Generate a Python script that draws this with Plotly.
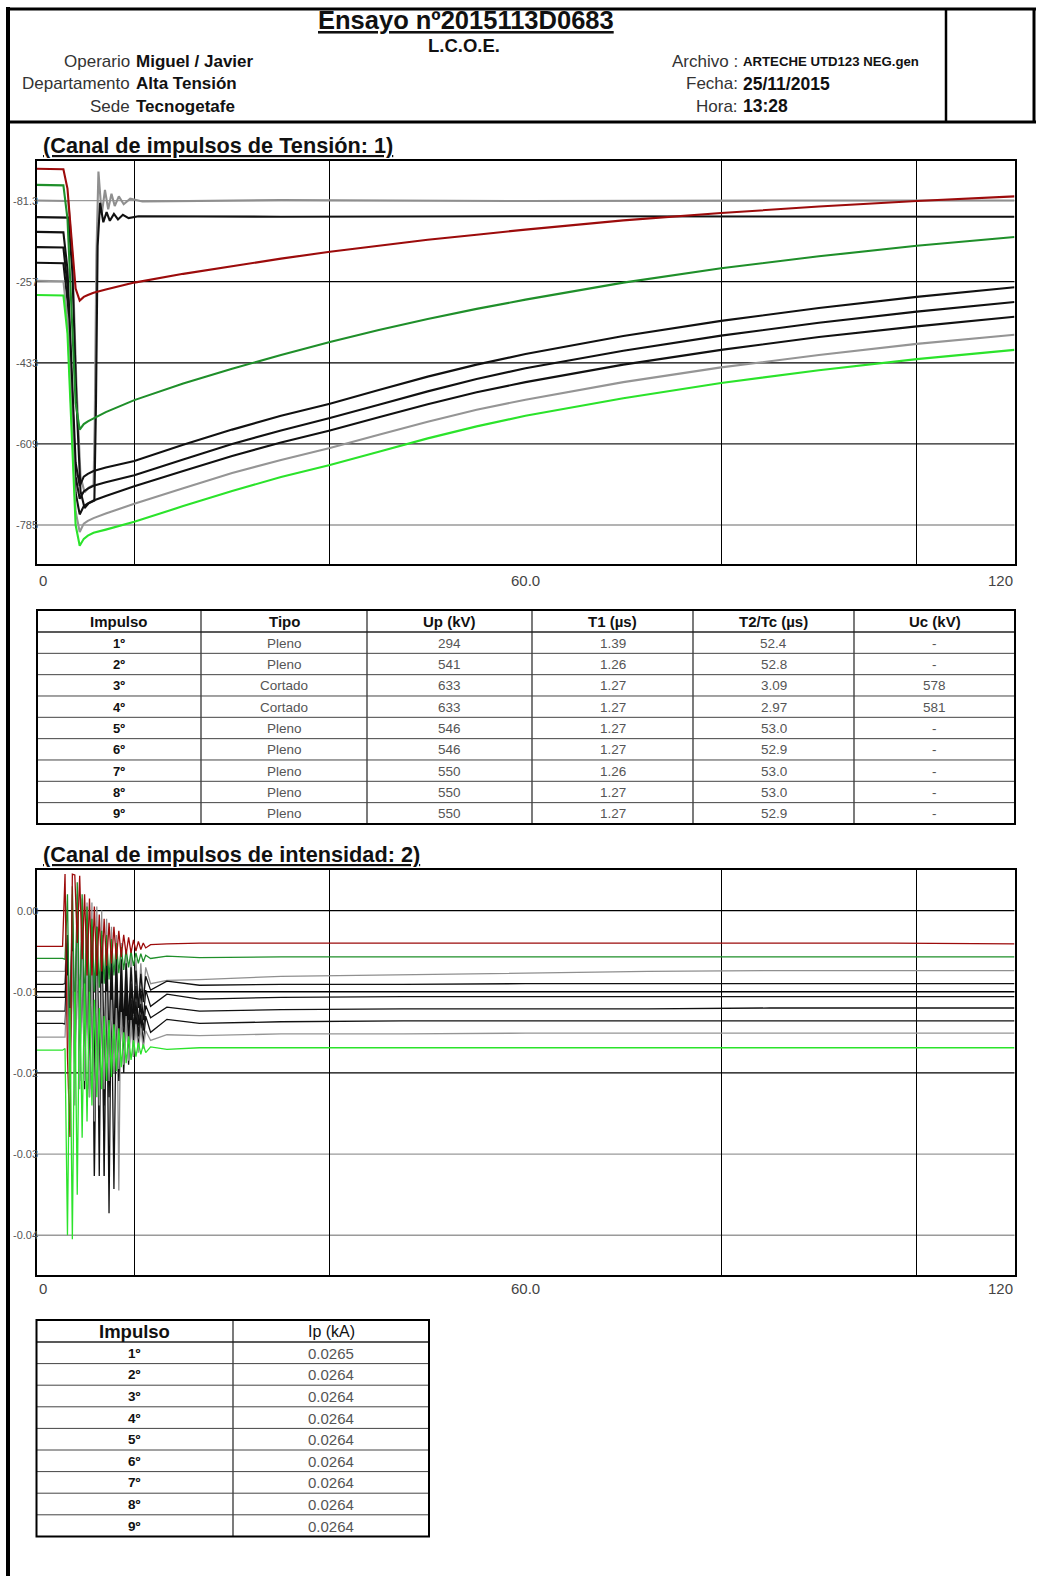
import plotly.graph_objects as go

W, H = 1037, 1576
FONT = "Liberation Sans, Arial, Helvetica, sans-serif"

# ---------------- data ----------------
TITLE = "Ensayo nº2015113D0683"
LAB = "L.C.O.E."
LEFT_LABELS = ["Operario", "Departamento", "Sede"]
LEFT_VALUES = ["Miguel / Javier", "Alta Tensión", "Tecnogetafe"]
RIGHT_LABELS = ["Archivo :", "Fecha:", "Hora:"]
RIGHT_VALUES = ["ARTECHE UTD123 NEG.gen", "25/11/2015", "13:28"]
SECTION_V = "(Canal de impulsos de Tensión: 1)"
SECTION_I = "(Canal de impulsos de intensidad: 2)"

X_TICKS = [0, 60, 120]
X_TICK_TEXT = ["0", "60.0", "120"]
X_GRID = [12, 36, 84, 108]

V_YTICKS = [-81.3, -257, -433, -609, -785]
V_YTICK_TEXT = ["-81.3", "-257", "-433", "-609", "-785"]
I_YTICKS = [0.0, -0.01, -0.02, -0.03, -0.04]
I_YTICK_TEXT = ["0.00", "-0.01", "-0.02", "-0.03", "-0.04"]

# voltage channel (kV vs µs); full impulses share one time grid
V_T = [0, 3.3, 3.8, 4.3, 4.8, 5.3, 5.8, 6.3, 7.0, 8.5, 12, 18, 24, 30, 36, 42, 48, 54, 60, 72, 84, 96, 108, 120]
U1 = [-12, -13, -55, -170, -272, -298, -290, -286, -281, -274, -259, -240, -223, -207, -192, -179, -166, -155, -144, -124, -108, -94, -82, -72]
U2 = [-47, -48, -120, -330, -520, -578, -566, -560, -554, -540, -514, -478, -446, -416, -388, -362, -338, -316, -296, -259, -228, -202, -179, -160]
U5 = [-149, -150, -230, -450, -650, -700, -680, -674, -668, -660, -646, -611, -578, -548, -522, -492, -463, -437, -414, -375, -342, -314, -290, -269]
U6 = [-182, -183, -265, -485, -680, -728, -712, -706, -700, -692, -677, -643, -609, -580, -553, -524, -495, -468, -445, -407, -374, -346, -322, -301]
U7 = [-216, -217, -300, -520, -715, -762, -744, -738, -732, -722, -701, -668, -635, -606, -580, -551, -523, -497, -475, -437, -405, -377, -354, -333]
U8 = [-255, -256, -340, -560, -755, -800, -782, -776, -770, -760, -739, -705, -672, -644, -618, -589, -561, -535, -513, -475, -443, -416, -392, -372]
U9 = [-286, -287, -370, -590, -785, -830, -815, -808, -802, -795, -778, -744, -711, -681, -655, -626, -597, -571, -548, -510, -477, -449, -425, -405]
# chopped impulses
U3_T = [0, 3.9, 4.4, 4.9, 5.4, 5.9, 6.4, 7.0, 7.15, 7.35, 7.6, 8.0, 8.4, 8.8, 9.2, 9.6, 10.1, 10.7, 11.5, 13, 30, 60, 90, 120]
U3 = [-81, -82, -200, -480, -680, -714, -704, -698, -560, -200, -18, -112, -58, -100, -66, -93, -72, -89, -77, -83, -80, -82, -81, -81]
U4_T = [0, 3.9, 4.4, 4.9, 5.4, 5.9, 6.4, 7.1, 7.3, 7.5, 7.8, 8.2, 8.6, 9.0, 9.5, 10.0, 10.6, 11.3, 12.5, 30, 60, 90, 120]
U4 = [-117, -118, -235, -515, -712, -748, -738, -732, -520, -180, -86, -128, -106, -125, -110, -122, -112, -119, -115, -116, -115, -116, -116]

# current channel (kA vs µs)
I_T = [0, 3.2,
       3.5, 3.8, 4.1, 4.4, 4.7, 5.0, 5.3, 5.6, 5.9, 6.2,
       6.5, 6.8, 7.1, 7.4, 7.7, 8.0, 8.3, 8.6, 8.9, 9.2,
       9.5, 9.8, 10.1, 10.4, 10.7, 11.0, 11.3, 11.6, 11.9, 12.2,
       12.5, 12.8, 13.1, 13.4,
       14, 16, 20, 30, 45, 60, 75, 90, 105, 120]
I1 = [-0.0044, -0.0044,
      0.0045, -0.018, -0.0279, 0.0045, 0.0044, -0.004, 0.0043, -0.006, 0.002, -0.008,
      0.0015, -0.008, 0.0005, -0.008, -0.0005, -0.0075, -0.001, -0.0068, -0.0015, -0.0065,
      -0.002, -0.006, -0.0025, -0.0057, -0.003, -0.0054, -0.0033, -0.0052, -0.0036, -0.005,
      -0.0038, -0.0048, -0.0040, -0.0046,
      -0.0042, -0.0041, -0.0040, -0.0040, -0.0040, -0.0040, -0.0040, -0.0040, -0.0040, -0.0041]
I2 = [-0.0059, -0.0059,
      -0.006, 0.002, -0.020, 0.003, -0.015, 0.0035, -0.014, 0.002, -0.012, 0.0005,
      -0.011, -0.001, -0.010, -0.002, -0.0095, -0.0025, -0.009, -0.003, -0.0085, -0.0035,
      -0.008, -0.004, -0.0077, -0.0045, -0.0073, -0.0048, -0.007, -0.005, -0.0068, -0.0052,
      -0.0065, -0.0053, -0.0063, -0.0055,
      -0.0059, -0.0056, -0.0058, -0.0057, -0.0057, -0.0057, -0.0057, -0.0057, -0.0057, -0.0057]
I3 = [-0.0075, -0.0075,
      -0.0075, -0.003, -0.014, 0.002, -0.016, 0.002, -0.017, 0.0015, -0.018, 0.001,
      -0.019, 0.001, -0.0327, 0.0005, -0.020, 0.000, -0.0327, -0.001, -0.019, -0.002,
      -0.018, -0.003, -0.0345, -0.004, -0.016, -0.005, -0.014, -0.0055, -0.013, -0.006,
      -0.0118, -0.0065, -0.011, -0.007,
      -0.0090, -0.0086, -0.0085, -0.0081, -0.0079, -0.0077, -0.0075, -0.0074, -0.0074, -0.0074]
I4 = [-0.0091, -0.0091,
      -0.009, -0.003, -0.016, 0.000, -0.017, 0.001, -0.018, 0.000, -0.019, -0.001,
      -0.019, -0.002, -0.019, -0.002, -0.0327, -0.003, -0.018, -0.004, -0.017, -0.005,
      -0.016, -0.0055, -0.015, -0.006, -0.0143, -0.0065, -0.0135, -0.007, -0.0127, -0.0074,
      -0.012, -0.0078, -0.0113, -0.0081,
      -0.0098, -0.0087, -0.0092, -0.0091, -0.0091, -0.0090, -0.0090, -0.0090, -0.0090, -0.0090]
I5 = [-0.0107, -0.0107,
      -0.0107, -0.004, -0.016, -0.001, -0.018, 0.000, -0.019, -0.001, -0.020, -0.002,
      -0.021, -0.003, -0.021, -0.004, -0.022, -0.005, -0.021, -0.006, -0.0373, -0.007,
      -0.019, -0.0075, -0.018, -0.008, -0.017, -0.0085, -0.016, -0.009, -0.015, -0.0093,
      -0.0142, -0.0096, -0.0135, -0.0098,
      -0.0118, -0.0103, -0.0109, -0.0107, -0.0106, -0.0106, -0.0106, -0.0106, -0.0106, -0.0106]
I6 = [-0.0124, -0.0124,
      -0.0124, -0.006, -0.017, -0.003, -0.019, -0.002, -0.020, -0.003, -0.021, -0.004,
      -0.022, -0.005, -0.0327, -0.006, -0.022, -0.007, -0.0327, -0.008, -0.021, -0.009,
      -0.020, -0.0095, -0.019, -0.010, -0.018, -0.0105, -0.017, -0.011, -0.016, -0.0112,
      -0.0155, -0.0115, -0.0148, -0.0117,
      -0.0132, -0.0119, -0.0124, -0.0122, -0.0121, -0.0121, -0.0121, -0.0120, -0.0120, -0.0120]
I7 = [-0.0139, -0.0139,
      -0.014, -0.008, -0.019, -0.005, -0.020, -0.004, -0.021, -0.005, -0.022, -0.006,
      -0.023, -0.007, -0.023, -0.008, -0.024, -0.009, -0.024, -0.010, -0.023, -0.0105,
      -0.0343, -0.011, -0.021, -0.0115, -0.020, -0.012, -0.019, -0.0123, -0.018, -0.0125,
      -0.0172, -0.0128, -0.0165, -0.013,
      -0.0150, -0.0134, -0.0139, -0.0137, -0.0136, -0.0136, -0.0136, -0.0136, -0.0136, -0.0136]
I8 = [-0.0156, -0.0156,
      -0.0156, -0.008, -0.022, -0.005, -0.024, -0.004, -0.022, -0.005, -0.021, -0.006,
      -0.023, -0.007, -0.026, -0.008, -0.024, -0.009, -0.022, -0.010, -0.021, -0.011,
      -0.020, -0.012, -0.0195, -0.0125, -0.019, -0.013, -0.0185, -0.0135, -0.018, -0.014,
      -0.0175, -0.0145, -0.017, -0.0148,
      -0.0160, -0.0153, -0.0154, -0.0152, -0.0152, -0.0151, -0.0151, -0.0151, -0.0151, -0.0151]
I9 = [-0.0172, -0.0172,
      -0.017, -0.040, -0.012, -0.0405, -0.010, -0.035, -0.0085, -0.028, -0.009, -0.026,
      -0.010, -0.024, -0.011, -0.023, -0.012, -0.022, -0.013, -0.021, -0.0135, -0.0205,
      -0.014, -0.0198, -0.0145, -0.0193, -0.015, -0.0188, -0.0155, -0.0184, -0.016, -0.018,
      -0.0163, -0.0177, -0.0165, -0.0175,
      -0.0168, -0.0171, -0.0169, -0.0169, -0.0169, -0.0169, -0.0169, -0.0169, -0.0169, -0.0169]

# tables
IMPULSO = ["1º", "2º", "3º", "4º", "5º", "6º", "7º", "8º", "9º"]
TIPO = ["Pleno", "Pleno", "Cortado", "Cortado", "Pleno", "Pleno", "Pleno", "Pleno", "Pleno"]
UP_KV = ["294", "541", "633", "633", "546", "546", "550", "550", "550"]
T1_US = ["1.39", "1.26", "1.27", "1.27", "1.27", "1.27", "1.26", "1.27", "1.27"]
T2TC_US = ["52.4", "52.8", "3.09", "2.97", "53.0", "52.9", "53.0", "53.0", "52.9"]
UC_KV = ["-", "-", "578", "581", "-", "-", "-", "-", "-"]
T1_HEADERS = ["Impulso", "Tipo", "Up (kV)", "T1 (µs)", "T2/Tc (µs)", "Uc (kV)"]
IP_KA = ["0.0265", "0.0264", "0.0264", "0.0264", "0.0264", "0.0264", "0.0264", "0.0264", "0.0264"]
T2_HEADERS = ["Impulso", "Ip (kA)"]

# ---------------- styles / layout constants ----------------
COL = {1: "#9c0b0b", 2: "#1f8f2a", 3: "#8f8f8f", 4: "#111111", 5: "#111111",
       6: "#111111", 7: "#111111", 8: "#959595", 9: "#2be32b"}
ORDER = [3, 4, 5, 6, 7, 8, 2, 1, 9]
V_GRID_COL = ["#9a9a9a", "#000000", "#000000", "#222222", "#9a9a9a"]
I_GRID_COL = ["#000000", "#000000", "#000000", "#9a9a9a", "#9a9a9a"]
T1_XB = [37, 201, 367, 532, 693, 854, 1015]
T1_TOP, T1_HDR, T1_ROW = 610, 22, 21.33
T2_XB = [36.5, 233, 429]
T2_TOP, T2_HDR, T2_ROW = 1320, 22, 21.6


def PX(x):
    return x / W


def PY(y):
    return 1 - y / H


V_SERIES = {1: (V_T, U1), 2: (V_T, U2), 3: (U3_T, U3), 4: (U4_T, U4), 5: (V_T, U5),
            6: (V_T, U6), 7: (V_T, U7), 8: (V_T, U8), 9: (V_T, U9)}
I_SERIES = {1: I1, 2: I2, 3: I3, 4: I4, 5: I5, 6: I6, 7: I7, 8: I8, 9: I9}

fig = go.Figure()
for k in ORDER:
    t, v = V_SERIES[k]
    fig.add_trace(go.Scatter(x=t, y=v, mode="lines", xaxis="x", yaxis="y",
                             line=dict(color=COL[k], width=2.1), hoverinfo="skip",
                             showlegend=False))
for k in ORDER:
    fig.add_trace(go.Scatter(x=I_T, y=I_SERIES[k], mode="lines", xaxis="x2", yaxis="y2",
                             line=dict(color=COL[k], width=1.3), hoverinfo="skip",
                             showlegend=False))

shapes = []
ann = []


def hline(x0, x1, y, color="black", width=1.0):
    shapes.append(dict(type="line", xref="paper", yref="paper", x0=PX(x0), x1=PX(x1),
                       y0=PY(y), y1=PY(y), line=dict(color=color, width=width), layer="above"))


def vline(x, y0, y1, color="black", width=1.0):
    shapes.append(dict(type="line", xref="paper", yref="paper", x0=PX(x), x1=PX(x),
                       y0=PY(y0), y1=PY(y1), line=dict(color=color, width=width), layer="above"))


def txt(text, x, y, size, xanchor="center", color="#111111", **kw):
    d = dict(text=text, x=x, y=y, xref=kw.pop("xref", "paper"), yref=kw.pop("yref", "paper"),
             xanchor=xanchor, yanchor="middle", showarrow=False,
             font=dict(family=FONT, size=size, color=color))
    d.update(kw)
    ann.append(d)


# page / header frame
vline(8, 7, 1576, width=4)
hline(6, 1036, 9, width=3)
hline(6, 1036, 122, width=3)
vline(1034, 8, 123, width=3)
vline(946, 8, 123, width=2.5)

# gridlines at y ticks
for v, c in zip(V_YTICKS, V_GRID_COL):
    shapes.append(dict(type="line", xref="x domain", yref="y", x0=0, x1=1, y0=v, y1=v,
                       line=dict(color=c, width=1.3), layer="below"))
for v, c in zip(I_YTICKS, I_GRID_COL):
    shapes.append(dict(type="line", xref="x2 domain", yref="y2", x0=0, x1=1, y0=v, y1=v,
                       line=dict(color=c, width=1.3), layer="below"))


def draw_table(xb, top, hdr_h, row_h, headers, columns, hdr_sizes, hdr_bold, cell_sizes, cell_colors,
               bold_first=True):
    nrows = len(columns[0])
    bottom = top + hdr_h + nrows * row_h
    for xv in xb[1:-1]:
        vline(xv, top, bottom, color="#222222", width=1.2)
    hline(xb[0], xb[-1], top + hdr_h, color="#222222", width=1.5)
    for r in range(1, nrows):
        hline(xb[0], xb[-1], top + hdr_h + r * row_h, color="#444444", width=1)
    shapes.append(dict(type="rect", xref="paper", yref="paper", x0=PX(xb[0]), x1=PX(xb[-1]),
                       y0=PY(top), y1=PY(bottom), line=dict(color="black", width=2), layer="above"))
    for j, h in enumerate(headers):
        cx = (xb[j] + xb[j + 1]) / 2
        t = "<b>%s</b>" % h if hdr_bold[j] else h
        txt(t, PX(cx), PY(top + hdr_h / 2 + 0.5), hdr_sizes[j], color="#111111")
    for j, col in enumerate(columns):
        cx = (xb[j] + xb[j + 1]) / 2
        for r, val in enumerate(col):
            cy = top + hdr_h + (r + 0.5) * row_h + 0.5
            t = "<b>%s</b>" % val if (bold_first and j == 0) else val
            txt(t, PX(cx), PY(cy), cell_sizes[j], color=cell_colors[j])


draw_table(T1_XB, T1_TOP, T1_HDR, T1_ROW, T1_HEADERS,
           [IMPULSO, TIPO, UP_KV, T1_US, T2TC_US, UC_KV],
           [15] * 6, [True] * 6, [13] + [13.5] * 5,
           ["#111111"] + ["#555555"] * 5)
draw_table(T2_XB, T2_TOP, T2_HDR, T2_ROW, T2_HEADERS, [IMPULSO, IP_KA],
           [18.5, 16], [True, False], [13.5, 15], ["#111111", "#555555"])

# header texts
txt("<b><u>%s</u></b>" % TITLE, PX(466), PY(20), 25.5)
txt("<b>%s</b>" % LAB, PX(464), PY(45.5), 18.5)
for i, (lab, val) in enumerate(zip(LEFT_LABELS, LEFT_VALUES)):
    y = PY(62 + i * 22)
    txt(lab, PX(132), y, 17, xanchor="right", color="#333333")
    txt("<b>%s</b>" % val, PX(134), y, 17, xanchor="left")
for i, (lab, val) in enumerate(zip(RIGHT_LABELS, RIGHT_VALUES)):
    y = PY(62 + i * 22)
    txt(lab, PX(740), y, 17, xanchor="right", color="#333333")
    txt("<b>%s</b>" % val, PX(741), y, 13.2 if i == 0 else 17.5, xanchor="left")

txt("<b><u>%s</u></b>" % SECTION_V, PX(41), PY(146), 21.7, xanchor="left")
txt("<b><u>%s</u></b>" % SECTION_I, PX(41), PY(855), 21.7, xanchor="left")

anch = ["left", "center", "right"]
for xv, lab, a in zip(X_TICKS, X_TICK_TEXT, anch):
    txt(lab, xv, PY(580), 15, xanchor=a, color="#444444", xref="x")
    txt(lab, xv, PY(1288), 15, xanchor=a, color="#444444", xref="x2")
for v, lab in zip(V_YTICKS, V_YTICK_TEXT):
    txt(lab, PX(40), v, 11, xanchor="right", color="#555555", yref="y")
for v, lab in zip(I_YTICKS, I_YTICK_TEXT):
    txt(lab, PX(40), v, 11, xanchor="right", color="#555555", yref="y2")

axis_common = dict(showline=True, mirror=True, linecolor="black", linewidth=2,
                   zeroline=False, fixedrange=True, ticks="")
fig.update_layout(
    width=W, height=H, margin=dict(l=0, r=0, t=0, b=0),
    paper_bgcolor="white", plot_bgcolor="white", showlegend=False,
    xaxis=dict(domain=[PX(36.5), PX(1014.5)], range=[0, 120], anchor="y",
               tickmode="array", tickvals=X_GRID, showticklabels=False,
               showgrid=True, gridcolor="black", gridwidth=1.3, **axis_common),
    yaxis=dict(domain=[PY(563.5), PY(161)], range=[-868.5, 4.85], anchor="x",
               showgrid=False, showticklabels=False, **axis_common),
    xaxis2=dict(domain=[PX(36.5), PX(1014.5)], range=[0, 120], anchor="y2",
                tickmode="array", tickvals=X_GRID, showticklabels=False,
                showgrid=True, gridcolor="black", gridwidth=1.3, **axis_common),
    yaxis2=dict(domain=[PY(1275), PY(870)], range=[-0.0449, 0.0050], anchor="x2",
                showgrid=False, showticklabels=False, **axis_common),
    shapes=shapes, annotations=ann,
)

fig.write_html("out.html", config={"displayModeBar": False},
               post_script="document.body.style.margin='0';document.body.style.overflow='hidden';")
